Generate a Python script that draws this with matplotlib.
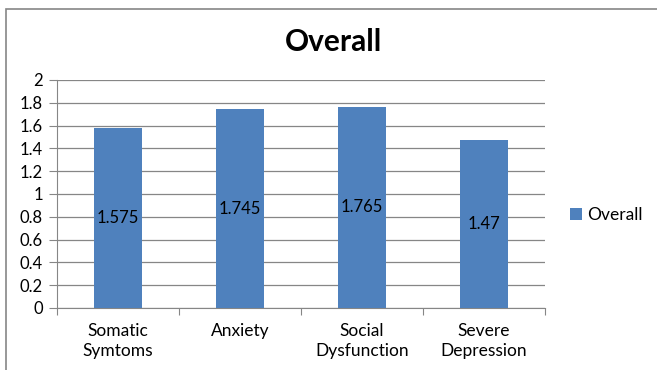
import matplotlib.pyplot as plt
from matplotlib.patches import Rectangle

categories = ["Somatic\nSymtoms", "Anxiety", "Social\nDysfunction", "Severe\nDepression"]
values = [1.575, 1.745, 1.765, 1.47]
value_labels = ["1.575", "1.745", "1.765", "1.47"]
yticks = [0, 0.2, 0.4, 0.6, 0.8, 1, 1.2, 1.4, 1.6, 1.8, 2]
ytick_labels = ["0", "0.2", "0.4", "0.6", "0.8", "1", "1.2", "1.4", "1.6", "1.8", "2"]

plt.rcParams['font.family'] = ['Lato', 'DejaVu Sans']

W, H = 657, 370
fig = plt.figure(figsize=(W / 100, H / 100), dpi=100)
ax = fig.add_axes([57 / W, 1 - 308 / H, 488 / W, 228 / H])

# outer chart border (top and left visible)
fig.patches.append(Rectangle((6 / W, -0.1), 1.2, 1 - 9 / H + 0.1, transform=fig.transFigure,
                             fill=False, edgecolor="#868686", linewidth=1.2))

x = list(range(len(categories)))
bars = ax.bar(x, values, width=0.4, color="#4f81bd", label="Overall", zorder=3)
for xi, v, lab in zip(x, values, value_labels):
    ax.text(xi, v / 2, lab, ha="center", va="center", fontsize=12, color="black", zorder=4)

ax.set_xlim(-0.5, len(categories) - 0.5)
ax.set_ylim(0, 2)
ax.set_yticks(yticks)
ax.set_yticklabels(ytick_labels, fontsize=12)
ax.set_xticks([i + 0.5 for i in range(-1, len(categories))], minor=False)
ax.set_xticklabels([])
ax.set_xticks(x, minor=True)
ax.set_xticklabels(categories, minor=True, fontsize=12.5, linespacing=1.25)
ax.tick_params(axis="x", which="major", length=5, color="#868686")
ax.tick_params(axis="x", which="minor", length=0, pad=11)
ax.tick_params(axis="y", length=6, color="#868686", pad=4)
ax.grid(axis="y", color="#868686", linewidth=0.9, zorder=0)

for s in ["top", "right"]:
    ax.spines[s].set_visible(False)
ax.spines["left"].set_color("#868686")
ax.spines["bottom"].set_color("#868686")

fig.text(333 / W, 1 - 42 / H, "Overall", ha="center", va="center", fontsize=21.5, fontweight="bold")

fig.legend(handles=[bars], labels=["Overall"], loc="center left", bbox_to_anchor=(570 / W, 1 - 215 / H),
           frameon=False, fontsize=12.5, handlelength=0.7, handleheight=0.7, handletextpad=0.3,
           borderpad=0, borderaxespad=0)

fig.savefig("out.png", dpi=100)
